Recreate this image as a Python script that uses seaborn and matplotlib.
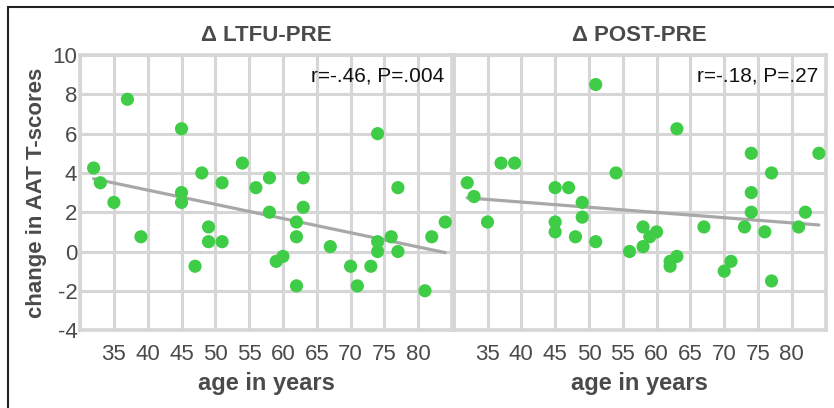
import numpy as np
import pandas as pd
import seaborn as sns
import matplotlib.pyplot as plt
from matplotlib.patches import Rectangle

# data
ltfu_age = [32, 33, 35, 37, 39, 45, 45, 45, 47, 48, 49, 49, 51, 51, 54, 56, 58, 58, 59, 60,
            62, 62, 62, 63, 63, 67, 70, 71, 73, 74, 74, 74, 76, 77, 77, 81, 82, 84]
ltfu_change = [4.25, 3.5, 2.5, 7.75, 0.75, 6.25, 3.0, 2.5, -0.75, 4.0, 1.25, 0.5, 3.5, 0.5,
               4.5, 3.25, 3.75, 2.0, -0.5, -0.25, 1.5, 0.75, -1.75, 3.75, 2.25, 0.25,
               -0.75, -1.75, -0.75, 6.0, 0.5, 0.0, 0.75, 3.25, 0.0, -2.0, 0.75, 1.5]

post_age = [32, 33, 35, 37, 39, 45, 45, 45, 47, 48, 49, 49, 51, 51, 54, 56, 58, 58, 59, 60,
            62, 62, 63, 63, 67, 70, 71, 73, 74, 74, 74, 76, 77, 77, 81, 82, 84]
post_change = [3.5, 2.8, 1.5, 4.5, 4.5, 3.25, 1.5, 1.0, 3.25, 0.75, 2.5, 1.75, 8.5, 0.5,
               4.0, 0.0, 1.25, 0.25, 0.75, 1.0, -0.75, -0.5, 6.25, -0.25, 1.25, -1.0,
               -0.5, 1.25, 5.0, 3.0, 2.0, 1.0, 4.0, -1.5, 1.25, 2.0, 5.0]

titles = ['\u0394 LTFU-PRE', '\u0394 POST-PRE']
stats_text = ['r=-.46, P=.004', 'r=-.18, P=.27']
x_ticks = list(range(30, 90, 5))
x_labels = ['' if t in (30, 85) else str(t) for t in x_ticks]
y_ticks = list(range(-4, 12, 2))

ltfu = pd.DataFrame({'age': ltfu_age, 'change': ltfu_change})
post = pd.DataFrame({'age': post_age, 'change': post_change})

sns.set_style('white')
plt.rcParams['font.family'] = ['Liberation Sans', 'DejaVu Sans']

fig = plt.figure(figsize=(8.34, 4.08), dpi=100)
ax1 = fig.add_axes([0.096, 0.191, 0.446, 0.674])
ax2 = fig.add_axes([0.544, 0.191, 0.446, 0.674])

green = '#3fcc46'
grid_c = '#d6d6d6'
text_c = '#4a4a4a'

for i, (ax, df) in enumerate([(ax1, ltfu), (ax2, post)]):
    ax.set_axisbelow(True)
    sns.regplot(x='age', y='change', data=df, ax=ax, scatter=False, ci=None,
                truncate=True, line_kws={'color': '#a8a8a8', 'lw': 2.3})
    sns.scatterplot(x='age', y='change', data=df, ax=ax, color=green, s=90,
                    edgecolor='none', zorder=3)
    ax.set_xlim(30, 85)
    ax.set_ylim(-4, 10)
    ax.set_xticks(x_ticks)
    ax.set_xticklabels(x_labels, fontsize=16, color=text_c)
    ax.set_yticks(y_ticks)
    ax.grid(True, color=grid_c, lw=2.2)
    ax.tick_params(length=0, pad=10)
    for s in ax.spines.values():
        s.set_color(grid_c)
        s.set_linewidth(2.6)
    ax.set_xlabel('age in years', fontsize=17, fontweight='bold', color=text_c,
                  labelpad=5)
    ax.set_title(titles[i], fontsize=16, fontweight='bold', color=text_c, pad=10)
    ax.text(0.98, 0.925, stats_text[i], transform=ax.transAxes, ha='right',
            va='center', fontsize=15, color='#111111')

ax1.set_yticklabels([str(t) for t in y_ticks], fontsize=16, color=text_c)
ax1.tick_params(axis='y', pad=2)
ax1.set_ylabel('change in AAT T-scores', fontsize=16, fontweight='bold', color=text_c,
               labelpad=4)
ax2.set_yticklabels([])
ax2.set_ylabel('')

# outer frame of the original figure
fig.patches.append(Rectangle((0.0095, -0.1), 1.2, 1.083, transform=fig.transFigure,
                             fill=False, edgecolor='#222222', lw=1.5))

fig.savefig('out.png', dpi=100)
